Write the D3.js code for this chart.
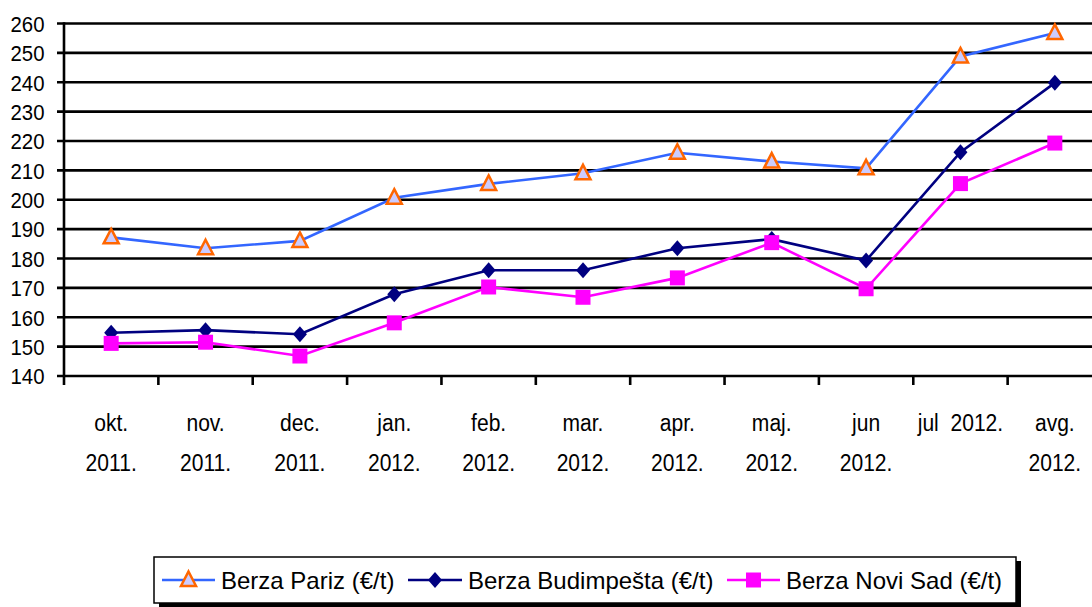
<!DOCTYPE html>
<html><head><meta charset="utf-8">
<script src="https://cdn.jsdelivr.net/npm/d3@7"></script>
<style>
html,body{margin:0;padding:0;background:#fff;}
svg{display:block;font-family:"Liberation Sans",Arial,sans-serif;}
</style></head>
<body>
<svg id="chart" width="1092" height="607"></svg>
<script>
const categories = [["okt.","2011."],["nov.","2011."],["dec.","2011."],["jan.","2012."],["feb.","2012."],["mar.","2012."],["apr.","2012."],["maj.","2012."],["jun","2012."],["jul  2012."],["avg.","2012."]];
const pariz = [187.2, 183.5, 186, 200.7, 205.4, 209, 216, 213, 210.7, 248.8, 256.8];
const budimpesta = [154.7, 155.6, 154.2, 167.8, 176, 176, 183.5, 186.6, 179.3, 216.2, 239.8];
const noviSad = [151.1, 151.5, 146.8, 158.1, 170.3, 166.8, 173.4, 185.4, 169.7, 205.5, 219.3];
const yTicks = [140,150,160,170,180,190,200,210,220,230,240,250,260];
const seriesNames = ["Berza Pariz (€/t)","Berza Budimpešta (€/t)","Berza Novi Sad (€/t)"];

(function(){
const svg = d3.select("#chart");
const pL = 64, pR = 1102, pT = 23.5, pB = 376;
const x = d3.scaleBand().domain(d3.range(categories.length)).range([pL, pR]);
const y = d3.scaleLinear().domain([140, 260]).range([pB, pT]);

// gridlines
svg.append("g").selectAll("line").data(yTicks).join("line")
  .attr("x1", pL - 7).attr("x2", 1092)
  .attr("y1", d => y(d)).attr("y2", d => y(d))
  .attr("stroke", "#000").attr("stroke-width", 2.6);
// y axis line
svg.append("line").attr("x1", pL).attr("x2", pL).attr("y1", pT - 1.3).attr("y2", pB + 9)
  .attr("stroke", "#000").attr("stroke-width", 2.6);
// x ticks
svg.append("g").selectAll("line").data(d3.range(1, categories.length + 1)).join("line")
  .attr("x1", d => pL + d * x.step()).attr("x2", d => pL + d * x.step())
  .attr("y1", pB).attr("y2", pB + 9)
  .attr("stroke", "#000").attr("stroke-width", 2.6);
// y labels
svg.append("g").selectAll("text").data(yTicks).join("text")
  .attr("transform", d => `translate(44.5,${y(d) + 8.3}) scale(0.885,1)`)
  .attr("text-anchor", "end").attr("font-size", 23).text(d => d);
// x labels
const xg = svg.append("g");
categories.forEach((lines, i) => {
  lines.forEach((line, j) => {
    xg.append("text")
      .attr("transform", `translate(${x(i) + x.bandwidth() / 2},${431 + j * 40}) scale(0.86,1)`)
      .attr("text-anchor", "middle").attr("font-size", 24.5)
      .style("white-space", "pre").text(line);
  });
});

const cx = i => x(i) + x.bandwidth() / 2;
const lineGen = d3.line().x((d, i) => cx(i)).y(d => y(d));

const triPath = "M0,-8.5L7.5,6L-7.5,6Z";
const diaPath = "M0,-8L7,0L0,8L-7,0Z";
const sqPath = "M-7.5,-7.5H7.5V7.5H-7.5Z";

function drawSeries(data, color, markerPath, mFill, mStroke, mSW) {
  svg.append("path").datum(data).attr("d", lineGen)
    .attr("fill", "none").attr("stroke", color).attr("stroke-width", 2.6);
  svg.append("g").selectAll("path").data(data).join("path")
    .attr("transform", (d, i) => `translate(${cx(i)},${y(d)})`)
    .attr("d", markerPath).attr("fill", mFill).attr("stroke", mStroke).attr("stroke-width", mSW);
}
drawSeries(pariz, "#3366FF", triPath, "#CCCCFF", "#FF6600", 2.5);
drawSeries(budimpesta, "#000080", diaPath, "#000080", "none", 0);
drawSeries(noviSad, "#FF00FF", sqPath, "#FF00FF", "none", 0);

// legend
const lg = svg.append("g");
lg.append("rect").attr("x", 159).attr("y", 561).attr("width", 862).attr("height", 46).attr("fill", "#000");
lg.append("rect").attr("x", 154).attr("y", 557).attr("width", 862).attr("height", 46)
  .attr("fill", "#fff").attr("stroke", "#000").attr("stroke-width", 1.5);
const ly = 580;
const items = [
  {x1: 162, x2: 215, color: "#3366FF", path: triPath, fill: "#CCCCFF", stroke: "#FF6600", sw: 2.5, tx: 221},
  {x1: 408, x2: 462, color: "#000080", path: diaPath, fill: "#000080", stroke: "none", sw: 0, tx: 468},
  {x1: 727, x2: 780, color: "#FF00FF", path: sqPath, fill: "#FF00FF", stroke: "none", sw: 0, tx: 786}
];
items.forEach((it, k) => {
  lg.append("line").attr("x1", it.x1).attr("x2", it.x2).attr("y1", ly).attr("y2", ly)
    .attr("stroke", it.color).attr("stroke-width", 2.6);
  lg.append("path").attr("transform", `translate(${(it.x1 + it.x2) / 2},${ly})`)
    .attr("d", it.path).attr("fill", it.fill).attr("stroke", it.stroke).attr("stroke-width", it.sw);
  lg.append("text").attr("x", it.tx).attr("y", ly + 8.7)
    .attr("font-size", 24).text(seriesNames[k]);
});
})();
</script>
</body></html>
